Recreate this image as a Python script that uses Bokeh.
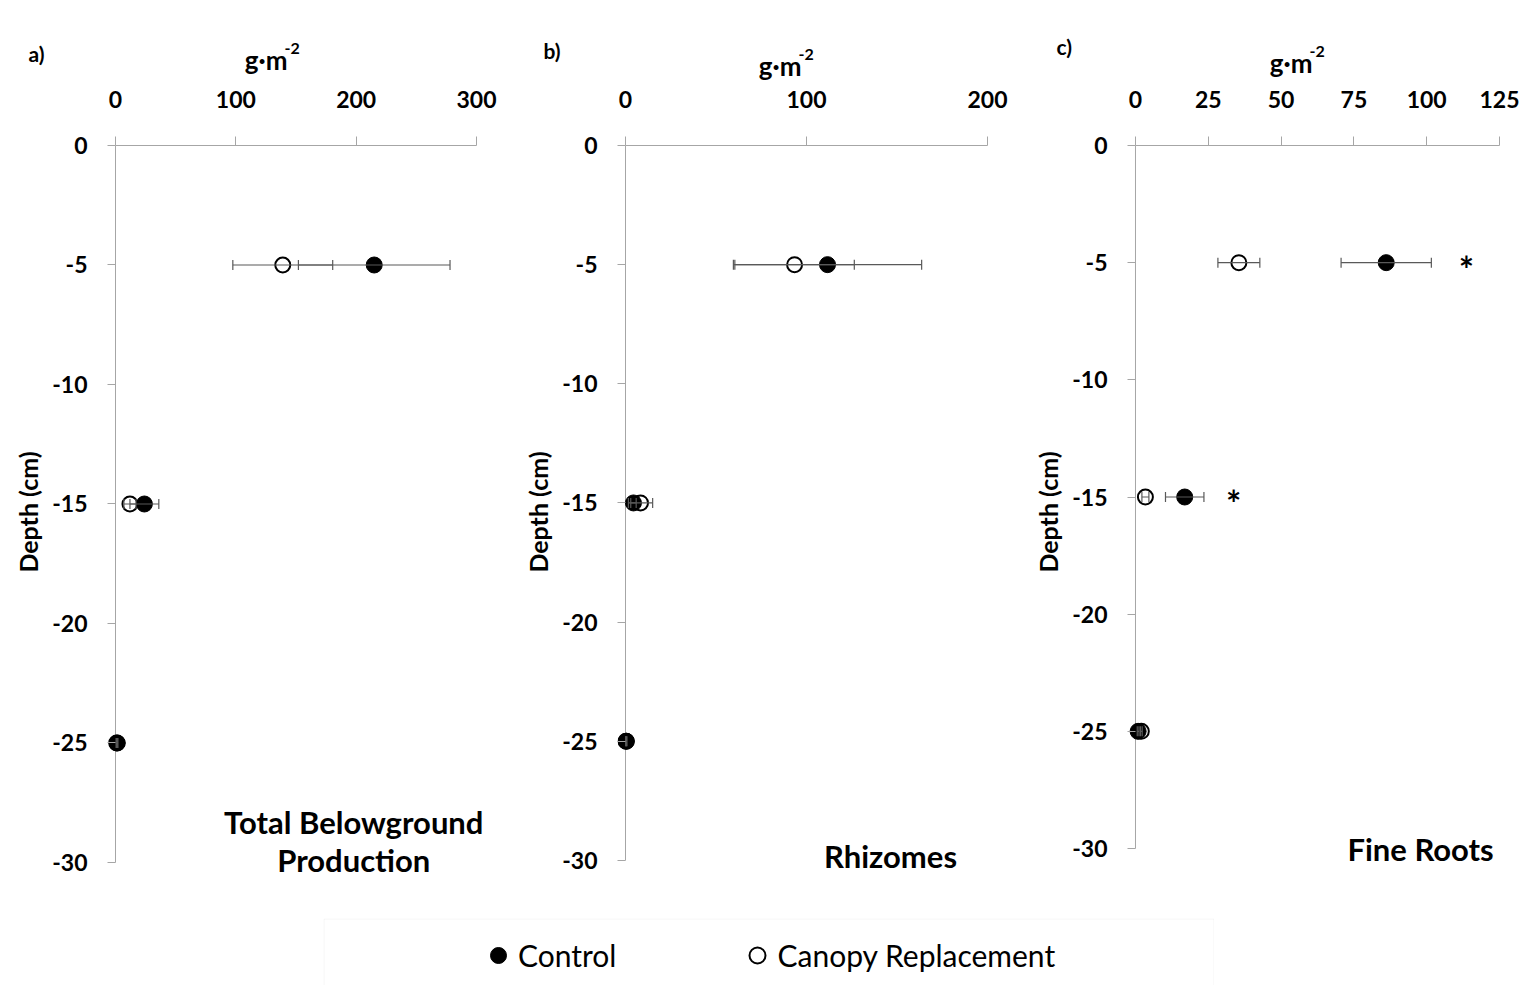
from bokeh.plotting import figure
from bokeh.models import (Whisker, ColumnDataSource, Label, TeeHead, Legend, LegendItem,
                          Range1d, FixedTicker, Spacer, BoxAnnotation)
from bokeh.layouts import row, column
from bokeh.embed import file_html
from bokeh.resources import INLINE
from bokeh.core.properties import value

# ---------------- data ----------------
depth = [-5, -15, -25]
depth_ticks = [0, -5, -10, -15, -20, -25, -30]

total_control = [215, 24, 1.5]
total_control_se = [63, 12, 0.5]
total_canopy = [139, 12, 1.0]
total_canopy_se = [41.5, 5, 0.5]

rhiz_control = [111.6, 4.4, 0.5]
rhiz_control_se = [52, 1.5, 0.3]
rhiz_canopy = [93.4, 8.3, 0.3]
rhiz_canopy_se = [33, 6.7, 0.2]

fine_control = [86.1, 16.9, 0.9]
fine_control_se = [15.5, 6.6, 0.3]
fine_canopy = [35.5, 3.4, 2.0]
fine_canopy_se = [7.2, 1.2, 0.3]

total_ticks = [0, 100, 200, 300]
rhiz_ticks = [0, 100, 200]
fine_ticks = [0, 25, 50, 75, 100, 125]

fine_sig_x = [113.6, 33.7]
fine_sig_y = [-5, -15]

panel_letters = ["a)", "b)", "c)"]
panel_titles = [["Total Belowground", "Production"], ["Rhizomes"], ["Fine Roots"]]
unit_main = "g·m"
unit_sup = "-2"
y_label = "Depth (cm)"
series_names = ["Control", "Canopy Replacement"]

FONT = "Lato"
AXIS_COLOR = "#a6a6a6"
BAR_COLOR = "#595959"


def make_panel(ctrl, ctrl_se, can, can_se, xticks, xr, yr, frame_w, frame_h,
               borders, titles, title_pos, sig=None):
    bl, br, bt, bb = borders
    p = figure(frame_width=frame_w, frame_height=frame_h,
               x_range=Range1d(*xr), y_range=Range1d(*yr),
               x_axis_location="above", toolbar_location=None,
               output_backend="svg", min_border_left=bl, min_border_right=br,
               min_border_top=bt, min_border_bottom=bb)
    p.grid.visible = False
    p.outline_line_color = None
    p.background_fill_color = "white"
    p.border_fill_color = "white"

    for ax in (p.xaxis[0], p.yaxis[0]):
        ax.axis_line_color = AXIS_COLOR
        ax.major_tick_line_color = AXIS_COLOR
        ax.minor_tick_out = 0
        ax.minor_tick_in = 0
        ax.major_label_text_font = FONT
        ax.major_label_text_font_style = "bold"
        ax.major_label_text_font_size = "23px"
        ax.major_label_text_color = "black"

    # x axis on top, crossing at depth 0
    p.xaxis.ticker = FixedTicker(ticks=xticks)
    p.xaxis.bounds = (xticks[0], xticks[-1])
    p.xaxis.major_tick_out = 9
    p.xaxis.major_tick_in = 0
    p.xaxis.major_label_standoff = 29

    # y axis: ticks reach from frame edge to x = 0, axis line drawn at x = 0
    p.yaxis.ticker = FixedTicker(ticks=depth_ticks)
    p.yaxis.major_label_overrides = {t: str(t) for t in depth_ticks}
    p.yaxis.axis_line_color = None
    p.yaxis.major_tick_out = 0
    p.yaxis.major_tick_in = 8
    p.yaxis.major_label_standoff = 20
    p.yaxis.axis_label = y_label
    p.yaxis.axis_label_text_font = FONT
    p.yaxis.axis_label_text_font_style = "bold"
    p.yaxis.axis_label_text_font_size = "25px"
    p.yaxis.axis_label_text_color = "black"
    p.yaxis.axis_label_standoff = 6
    p.segment(x0=[xticks[0]], y0=[depth_ticks[0]], x1=[xticks[0]], y1=[depth_ticks[-1]],
              line_color=AXIS_COLOR, line_width=1, level="underlay")

    def series(vals, se, filled):
        src = ColumnDataSource(dict(x=vals, y=depth,
                                    lo=[v - s for v, s in zip(vals, se)],
                                    hi=[v + s for v, s in zip(vals, se)]))
        w = Whisker(source=src, base="y", lower="lo", upper="hi", dimension="width",
                    line_color=BAR_COLOR, line_width=1.2, level="glyph",
                    lower_head=TeeHead(size=10, line_color=BAR_COLOR, line_width=1.2),
                    upper_head=TeeHead(size=10, line_color=BAR_COLOR, line_width=1.2))
        p.add_layout(w)
        if filled:
            p.scatter("x", "y", source=src, marker="circle", size=16,
                      fill_color="black", line_color="black")
        else:
            p.scatter("x", "y", source=src, marker="circle", size=15,
                      fill_color="white", line_color="black", line_width=2)

    series(can, can_se, False)
    series(ctrl, ctrl_se, True)

    if sig is not None:
        p.text(x=sig[0], y=sig[1], text=["*"] * len(sig[0]),
               text_font=value(FONT), text_font_style="bold",
               text_font_size="36px", text_align="center",
               text_baseline="middle", y_offset=6, text_color="black")

    for t, (tx, ty) in zip(titles, title_pos):
        p.add_layout(Label(x=tx, y=ty, text=t, text_font=FONT,
                           text_font_size="31px", text_font_style="bold",
                           text_color="black",
                           text_align="center", text_baseline="middle"))
    return p


TOP = 65
pa = make_panel(total_control, total_control_se, total_canopy, total_canopy_se,
                total_ticks, (-6.65, 313.3), (-30.67, 0), 385, 733, (107, 28, TOP, 40),
                panel_titles[0], [(198, -28.3), (198, -29.9)])
pb = make_panel(rhiz_control, rhiz_control_se, rhiz_canopy, rhiz_canopy_se,
                rhiz_ticks, (-4.42, 204.4), (-30.76, 0), 378, 733, (97, 35, TOP, 40),
                panel_titles[1], [(146.4, -29.8)])
pc = make_panel(fine_control, fine_control_se, fine_canopy, fine_canopy_se,
                fine_ticks, (-2.747, 127.75), (-31.28, 0), 380, 733, (97, 22, TOP, 40),
                panel_titles[2], [(97.9, -30.0)], sig=(fine_sig_x, fine_sig_y))

# ---------------- header (panel letters and unit titles) ----------------
HW, HH = 1529, 80
head = figure(width=HW, height=HH, toolbar_location=None, output_backend="svg",
              min_border=0, x_range=Range1d(0, HW), y_range=Range1d(HH, 0))
head.axis.visible = False
head.grid.visible = False
head.outline_line_color = None
letter_xy = [(28, 53), (543, 50), (1056, 46)]
unit_xy = [(287, 59), (801, 65), (1312, 62)]
head.text(x=[q[0] for q in letter_xy], y=[q[1] for q in letter_xy], text=panel_letters,
          text_font=value(FONT), text_font_style="bold", text_font_size="21px",
          text_align="left", text_baseline="middle", text_color="black")
head.text(x=[q[0] for q in unit_xy], y=[q[1] for q in unit_xy], text=[unit_main] * 3,
          text_font=value(FONT), text_font_style="bold", text_font_size="26px",
          text_align="right", text_baseline="alphabetic", text_color="black")
head.text(x=[q[0] - 3 for q in unit_xy], y=[q[1] - 11 for q in unit_xy], text=[unit_sup] * 3,
          text_font=value(FONT), text_font_style="bold", text_font_size="16px",
          text_align="left", text_baseline="alphabetic", text_color="black")

# ---------------- legend ----------------
LW, LH = 891, 67
leg = figure(width=LW, height=LH, toolbar_location=None, output_backend="svg",
             min_border=0, x_range=Range1d(0, LW), y_range=Range1d(0, LH))
leg.axis.visible = False
leg.grid.visible = False
leg.outline_line_color = None
leg.add_layout(BoxAnnotation(left=0.5, right=LW - 0.5, bottom=-20, top=LH - 0.5,
                             fill_alpha=0, line_color="#d9d9d9", line_width=1))
r1 = leg.scatter(x=[-100], y=[-100], marker="circle", size=16,
                 fill_color="black", line_color="black")
r2 = leg.scatter(x=[-100], y=[-100], marker="circle", size=15, fill_color="white",
                 line_color="black", line_width=2)
legend = Legend(items=[LegendItem(label=series_names[0], renderers=[r1]),
                       LegendItem(label=series_names[1], renderers=[r2])],
                orientation="horizontal", location=(155, 10),
                border_line_alpha=0, background_fill_alpha=0,
                label_text_font=FONT, label_text_font_size="30px",
                label_text_color="black",
                glyph_width=40, glyph_height=40, label_standoff=0,
                spacing=121, padding=0, margin=0, label_height=40)
leg.add_layout(legend, "center")

layout = column(head, row(pa, pb, pc), row(Spacer(width=323, height=LH), leg))

open("out.html", "w").write(file_html(layout, INLINE))
